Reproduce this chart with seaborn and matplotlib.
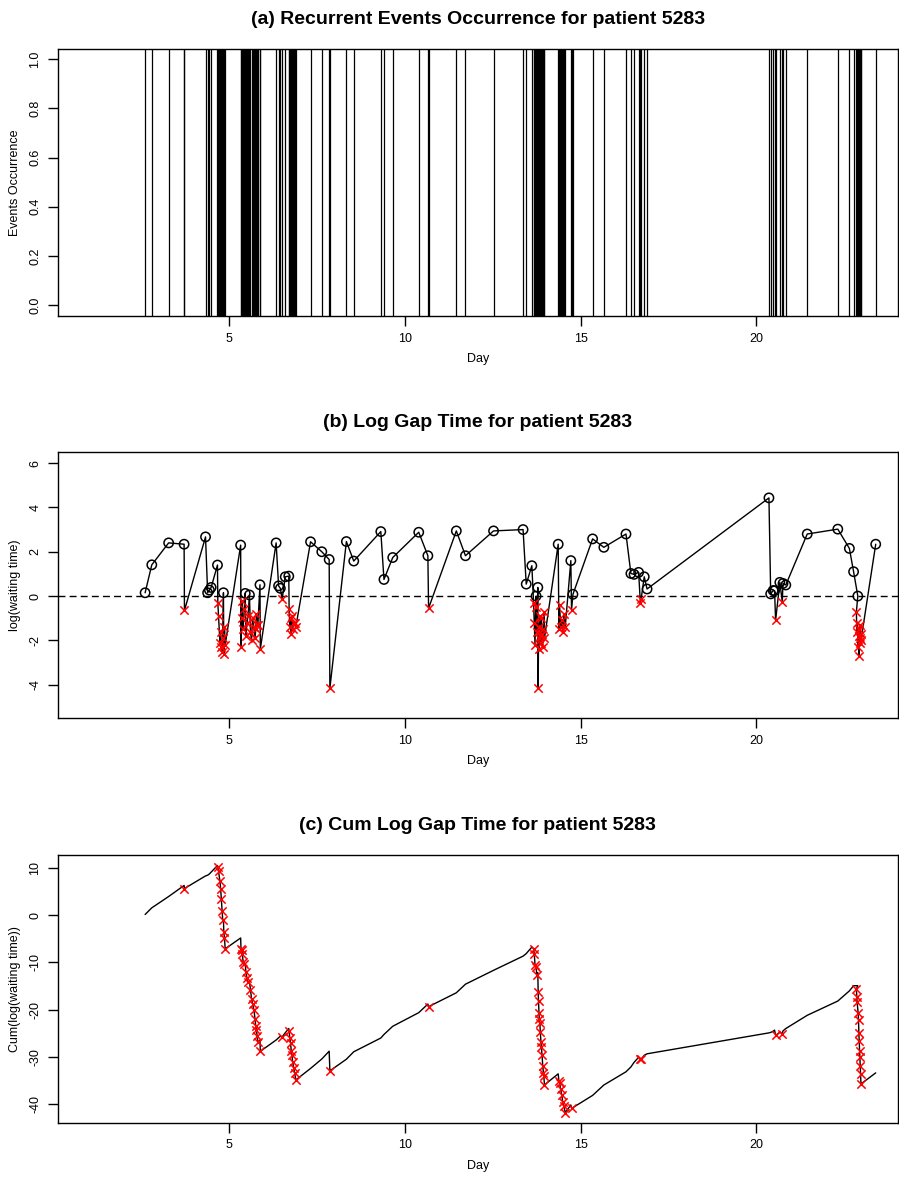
import numpy as np
import pandas as pd
import matplotlib
matplotlib.use("Agg")
import matplotlib.pyplot as plt
import seaborn as sns

sns.set_theme(style="ticks")
plt.rcParams['font.family'] = ['Liberation Sans', 'DejaVu Sans']
plt.rcParams['axes.unicode_minus'] = False
for k in ["text.color", "axes.labelcolor", "xtick.color", "ytick.color", "axes.edgecolor"]:
    plt.rcParams[k] = "black"

# ---------------- data ----------------
patient_id = "5283"

event_day = [
    2.60, 2.79, 3.27, 3.71, 3.72, 4.32, 4.38, 4.43, 4.48, 4.66,
    4.67, 4.69, 4.73, 4.75, 4.77, 4.79, 4.81, 4.83, 4.84, 4.86, 4.88,
    5.32, 5.33, 5.35, 5.37, 5.39, 5.42, 5.45, 5.47, 5.50, 5.53, 5.57,
    5.60, 5.63, 5.66, 5.70, 5.73, 5.75, 5.77, 5.79, 5.81, 5.87, 5.88,
    6.33, 6.40, 6.45, 6.50, 6.59, 6.69,
    6.70, 6.72, 6.74, 6.76, 6.78, 6.80, 6.83, 6.86, 6.89,
    7.31, 7.63, 7.84, 7.86, 8.33, 8.54, 9.31, 9.40, 9.65, 10.39, 10.65,
    10.67, 11.46, 11.72, 12.52, 13.36, 13.45, 13.61,
    13.66, 13.68, 13.70, 13.72, 13.73, 13.75, 13.78, 13.79, 13.80, 13.81,
    13.82, 13.84, 13.85, 13.87, 13.88, 13.90, 13.92, 13.94, 13.95, 13.97,
    14.36, 14.38, 14.40, 14.43, 14.46, 14.49, 14.52, 14.56,
    14.72, 14.74, 14.78, 15.34, 15.66, 16.29, 16.43, 16.52, 16.65, 16.70,
    16.72, 16.81, 16.89,
    20.36, 20.41, 20.48, 20.52, 20.55, 20.67, 20.74, 20.76, 20.84,
    21.45, 22.32, 22.65, 22.77, 22.89,
    22.85, 22.86, 22.87, 22.90, 22.91, 22.92, 22.93, 22.94, 22.95, 22.96,
    22.97, 22.98, 23.40,
]

log_gap = [
    0.15, 1.41, 2.40, 2.34, -0.65, 2.67, 0.15, 0.27, 0.39, 1.40,
    -0.3, -0.9, -2.1, -1.6, -2.3, -2.5, -1.9, 0.15, -2.6, -1.4, -2.2,
    2.30, -2.3, -0.2, -1.0, -1.5, -0.6, 0.12, -1.8, -1.2, -0.9, 0.05,
    -1.6, -2.0, -1.0, -1.4, -1.9, -1.5, -0.8, -1.3, -1.3, 0.51, -2.39,
    2.40, 0.46, 0.35, -0.15, 0.87, 0.90,
    -0.6, -1.4, -1.0, -1.7, -0.9, -1.5, -1.2, -1.2, -1.4,
    2.45, 2.00, 1.65, -4.16, 2.46, 1.58, 2.91, 0.75, 1.74, 2.88, 1.82,
    -0.55, 2.94, 1.82, 2.94, 3.00, 0.54, 1.37,
    -0.3, -1.2, -2.2, -0.5, 0.00, -1.6, 0.39, -4.16, -1.9, -2.4,
    -1.4, -0.9, -1.8, -2.1, -1.0, -1.7, -2.3, -1.5, -0.7, -1.9,
    2.34, -1.5, -0.4, -1.4, -1.1, -1.6, -0.8, -1.4,
    1.60, -0.63, 0.08, 2.58, 2.20, 2.80, 1.02, 0.98, 1.07, -0.30,
    -0.15, 0.87, 0.32,
    4.43, 0.10, 0.25, 0.24, -1.10, 0.62, -0.26, 0.57, 0.50,
    2.80, 3.02, 2.15, 1.10, 0.00,
    -0.7, -1.6, -1.2, -2.3, -1.5, -2.7, -1.8, -2.1, -1.3, -1.9,
    -1.7, -2.0, 2.34,
]

titles = [
    f"(a) Recurrent Events Occurrence for patient {patient_id}",
    f"(b) Log Gap Time for patient {patient_id}",
    f"(c) Cum Log Gap Time for patient {patient_id}",
]
ylabels = ["Events Occurrence", "log(waiting time)", "Cum(log(waiting time))"]
xlabel = "Day"
x_ticks = [5, 10, 15, 20]
y_ticks_a = [0.0, 0.2, 0.4, 0.6, 0.8, 1.0]
y_ticks_b = [-4, -2, 0, 2, 4, 6]
y_ticks_c = [-40, -30, -20, -10, 0, 10]

# ---------------- build table ----------------
df = pd.DataFrame({"day": event_day, "log_gap": log_gap})
df["cum"] = df["log_gap"].cumsum()
pos = df[df["log_gap"] >= 0]
neg = df[df["log_gap"] < 0]

W, H = 899, 1187
fig = plt.figure(figsize=(W / 100, H / 100), dpi=100)


def add_ax(left, top, right, bottom):
    return fig.add_axes([left / W, 1 - bottom / H, (right - left) / W, (bottom - top) / H])


ax1 = add_ax(58, 49, 897.5, 316)
ax2 = add_ax(58, 452, 897.5, 718)
ax3 = add_ax(58, 855, 897.5, 1122.5)

LW = 1.0

# (a) event occurrence lines
sns.rugplot(data=df, x="day", height=1, color="black", linewidth=0.9,
            expand_margins=False, ax=ax1)
ax1.set_ylim(-0.045, 1.042)
ax1.set_yticks(y_ticks_a)
ax1.set_yticklabels([f"{v:.1f}" for v in y_ticks_a])

# (b) log gap time
sns.lineplot(data=df, x="day", y="log_gap", sort=False, estimator=None,
             color="black", linewidth=LW, ax=ax2)
ax2.axhline(0, color="black", linewidth=LW, linestyle=(0, (5, 3)))
sns.scatterplot(data=pos, x="day", y="log_gap", marker="o", s=45,
                facecolor="none", edgecolor="black", linewidth=1.1, ax=ax2)
sns.scatterplot(data=neg, x="day", y="log_gap", marker="x", s=36,
                color="red", edgecolor="red", linewidth=1.1, ax=ax2, zorder=3)
ax2.set_ylim(-5.5, 6.5)
ax2.set_yticks(y_ticks_b)

# (c) cumulative log gap time
sns.lineplot(data=df, x="day", y="cum", sort=False, estimator=None,
             color="black", linewidth=LW, ax=ax3)
sns.scatterplot(data=neg, x="day", y="cum", marker="x", s=36,
                color="red", edgecolor="red", linewidth=1.1, ax=ax3, zorder=3)
ax3.set_ylim(-43.9, 12.75)
ax3.set_yticks(y_ticks_c)

for ax, title, ylab in zip([ax1, ax2, ax3], titles, ylabels):
    ax.set_xlim(0.12, 24.02)
    ax.set_xticks(x_ticks)
    ax.set_title(title, fontsize=14, fontweight="bold", pad=18, color="black")
    ax.set_xlabel(xlabel, fontsize=9, labelpad=6)
    ax.set_ylabel(ylab, fontsize=9, labelpad=6)
    ax.tick_params(axis="both", direction="out", length=7, width=1,
                   color="black", labelcolor="black", labelsize=9, pad=5,
                   bottom=True, left=True, top=False, right=False)
    ax.tick_params(axis="y", labelrotation=90)
    for lab in ax.get_yticklabels():
        lab.set_va("center")
    for sp in ax.spines.values():
        sp.set_visible(True)
        sp.set_color("black")
        sp.set_linewidth(1.0)
    ax.grid(False)
    leg = ax.get_legend()
    if leg is not None:
        leg.remove()

fig.savefig("out.png", dpi=100)
